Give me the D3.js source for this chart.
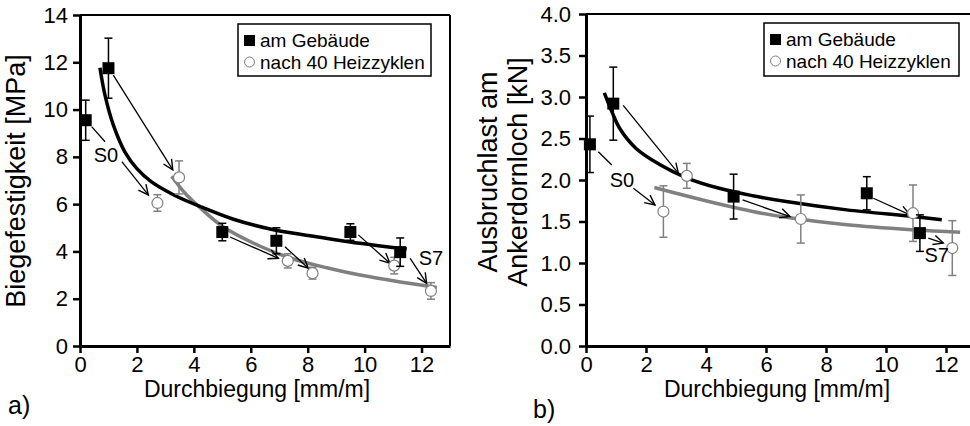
<!DOCTYPE html>
<html><head><meta charset="utf-8">
<script src="https://cdn.jsdelivr.net/npm/d3@7"></script>
<style>body{margin:0;background:#fff}svg{display:block}text{font-family:Arial,"Liberation Sans",sans-serif}</style>
</head><body>
<svg id="c" width="970" height="426"></svg>
<script>
// ---------- data ----------
const xTicks = [0, 2, 4, 6, 8, 10, 12];
const yTicksA = [0, 2, 4, 6, 8, 10, 12, 14];
const yTicksB = [0, 0.5, 1, 1.5, 2, 2.5, 3, 3.5, 4];
const legendLabels = ["am Gebäude", "nach 40 Heizzyklen"];

// panel a) Biegefestigkeit
const aBuildX = [0.2, 1.0, 5.0, 6.9, 9.5, 11.25];
const aBuildY = [9.55, 11.75, 4.82, 4.45, 4.82, 3.97];
const aBuildE = [0.85, 1.27, 0.37, 0.55, 0.35, 0.6];
const aCycX = [2.72, 3.48, 7.3, 8.17, 11.04, 12.33];
const aCycY = [6.05, 7.13, 3.6, 3.08, 3.4, 2.33];
const aCycE = [0.35, 0.7, 0.3, 0.25, 0.35, 0.35];
const aFitBuildX = [0.7, 0.88, 1.17, 1.58, 2.0, 2.5, 3.28, 4.22, 5.39, 6.68, 8.08, 9.49, 11.48];
const aFitBuildY = [11.77, 10.6, 9.35, 8.2, 7.5, 6.95, 6.4, 5.9, 5.36, 4.95, 4.66, 4.40, 4.1];
const aFitCycX = [3.22, 3.7, 4.22, 5.04, 6.33, 7.5, 8.67, 9.84, 11.25, 12.54];
const aFitCycY = [7.18, 6.45, 5.85, 5.03, 4.22, 3.68, 3.31, 3.0, 2.71, 2.48];
// arrows: x1,y1,x2,y2,head
const aArrows = [
  [0.41, 9.28, 0.88, 8.64, 0],
  [1.47, 7.80, 2.40, 6.39, 1],
  [1.17, 11.46, 3.26, 7.45, 1],
  [5.27, 4.61, 6.97, 3.71, 1],
  [7.2, 4.2, 8.02, 3.29, 1],
  [9.78, 4.7, 10.89, 3.5, 1],
  [11.6, 3.71, 12.18, 2.65, 1]
];
const aLabels = [["S0", 0.91, 8.08], ["S7", 12.33, 3.72]];

// panel b) Ausbruchlast
const bBuildX = [0.13, 0.91, 4.92, 9.36, 11.13];
const bBuildY = [2.43, 2.92, 1.80, 1.84, 1.36];
const bBuildE = [0.34, 0.44, 0.27, 0.2, 0.22];
const bCycX = [2.58, 3.36, 7.16, 10.9, 12.21];
const bCycY = [1.62, 2.05, 1.53, 1.60, 1.18];
const bCycE = [0.31, 0.15, 0.29, 0.34, 0.33];
const bFitBuildX = [0.61, 0.89, 1.11, 1.67, 2.44, 3.33, 4.44, 5.56, 6.67, 8.69, 10.9, 11.86];
const bFitBuildY = [3.05, 2.8, 2.63, 2.38, 2.19, 2.03, 1.9, 1.81, 1.74, 1.64, 1.56, 1.52];
const bFitCycX = [2.28, 3.33, 4.44, 5.56, 6.67, 8.69, 10.9, 12.47];
const bFitCycY = [1.91, 1.81, 1.71, 1.62, 1.55, 1.46, 1.40, 1.37];
const bArrows = [
  [0.41, 2.34, 0.86, 2.18, 0],
  [1.58, 1.90, 2.3, 1.70, 1],
  [1.24, 2.90, 3.08, 2.08, 1],
  [5.22, 1.76, 6.8, 1.56, 1],
  [9.58, 1.78, 10.8, 1.58, 1],
  [11.41, 1.30, 11.91, 1.24, 1]
];
const bLabels = [["S0", 1.2, 2.0], ["S7", 11.69, 1.10]];

// ---------- drawing ----------
const svg = d3.select("#c");
const GRAY = "#808080";

function panel(cfg) {
  const x = d3.scaleLinear().domain([0, 13]).range(cfg.xr);
  const y = d3.scaleLinear().domain(cfg.yd).range([346, cfg.ytop]);
  const g = svg.append("g");
  g.append("line").attr("x1", x(0)).attr("x2", x(13)).attr("y1", y(cfg.yd[1])).attr("y2", y(cfg.yd[1]))
    .attr("stroke", "#000").attr("stroke-width", 2);
  g.append("line").attr("x1", x(13)).attr("x2", x(13)).attr("y1", y(cfg.yd[1])).attr("y2", y(0))
    .attr("stroke", "#000").attr("stroke-width", 2);
  const ax = g.append("g").attr("transform", `translate(0,${y(0)})`)
    .call(d3.axisBottom(x).tickValues(xTicks).tickSize(7).tickSizeOuter(0).tickFormat(d3.format("d")));
  const ay = g.append("g").attr("transform", `translate(${x(0)},0)`)
    .call(d3.axisLeft(y).tickValues(cfg.yt).tickSize(7).tickSizeOuter(0).tickFormat(cfg.fmt));
  [ax, ay].forEach(a => {
    a.select(".domain").attr("stroke-width", 3).attr("stroke", "#000");
    a.selectAll(".tick line").attr("stroke-width", 2.5).attr("stroke", "#000");
    a.selectAll(".tick text").attr("font-size", 22).attr("fill", "#000").attr("font-family", "Arial, 'Liberation Sans', sans-serif");
  });
  ax.selectAll(".tick text").attr("dy", null).attr("y", 26);
  ay.selectAll(".tick text").attr("dx", cfg.ydx);
  const line = d3.line().curve(d3.curveCatmullRom.alpha(0.5)).x(d => x(d[0])).y(d => y(d[1]));
  g.append("path").datum(d3.zip(cfg.fcx, cfg.fcy)).attr("d", line).attr("fill", "none")
    .attr("stroke", GRAY).attr("stroke-width", 3.5);
  g.append("path").datum(d3.zip(cfg.fbx, cfg.fby)).attr("d", line).attr("fill", "none")
    .attr("stroke", "#000").attr("stroke-width", 3.5);
  cfg.arrows.forEach(a => {
    const [x1, y1, x2, y2, h] = [x(a[0]), y(a[1]), x(a[2]), y(a[3]), a[4]];
    g.append("line").attr("x1", x1).attr("y1", y1).attr("x2", x2).attr("y2", y2)
      .attr("stroke", "#000").attr("stroke-width", 1.3);
    if (h) {
      const ang = Math.atan2(y2 - y1, x2 - x1), L = 11, w = 0.45;
      const p = [[x2 - L * Math.cos(ang - w), y2 - L * Math.sin(ang - w)], [x2, y2],
                 [x2 - L * Math.cos(ang + w), y2 - L * Math.sin(ang + w)]];
      g.append("path").attr("d", d3.line()(p)).attr("fill", "none").attr("stroke", "#000").attr("stroke-width", 1.4);
    }
  });
  function errbars(xs, ys, es, col) {
    xs.forEach((xv, i) => {
      const cx = x(xv), t = y(ys[i] + es[i]), b = y(ys[i] - es[i]);
      g.append("line").attr("x1", cx).attr("x2", cx).attr("y1", t).attr("y2", b).attr("stroke", col).attr("stroke-width", 1.5);
      [t, b].forEach(yy => g.append("line").attr("x1", cx - 4).attr("x2", cx + 4).attr("y1", yy).attr("y2", yy)
        .attr("stroke", col).attr("stroke-width", 1.5));
    });
  }
  errbars(cfg.cx, cfg.cy, cfg.ce, GRAY);
  g.selectAll(null).data(d3.zip(cfg.cx, cfg.cy)).enter().append("circle")
    .attr("cx", d => x(d[0])).attr("cy", d => y(d[1])).attr("r", 5.5)
    .attr("fill", "#fff").attr("stroke", GRAY).attr("stroke-width", 1.2);
  errbars(cfg.bx, cfg.by, cfg.be, "#000");
  g.selectAll(null).data(d3.zip(cfg.bx, cfg.by)).enter().append("rect")
    .attr("x", d => x(d[0]) - 6).attr("y", d => y(d[1]) - 6).attr("width", 12).attr("height", 12).attr("fill", "#000");
  cfg.labels.forEach(l => g.append("text").attr("x", x(l[1])).attr("y", y(l[2])).attr("dy", "0.35em")
    .attr("text-anchor", "middle").attr("font-size", 20).text(l[0]));
  const [lx, ly, lw, lh] = cfg.leg;
  g.append("rect").attr("x", lx).attr("y", ly).attr("width", lw).attr("height", lh)
    .attr("fill", "#fff").attr("stroke", "#000").attr("stroke-width", 1.5);
  g.append("rect").attr("x", lx + 6).attr("y", ly + 11).attr("width", 11).attr("height", 11).attr("fill", "#000");
  g.append("circle").attr("cx", lx + 11.5).attr("cy", ly + 38).attr("r", 5).attr("fill", "#fff").attr("stroke", GRAY).attr("stroke-width", 1);
  legendLabels.forEach((t, i) => g.append("text").attr("x", lx + 22).attr("y", ly + 16 + i * 22).attr("dy", "0.35em")
    .attr("font-size", 19).text(t));
  g.append("text").attr("x", cfg.xtx).attr("y", cfg.xty).attr("text-anchor", "middle").attr("font-size", 23)
    .text("Durchbiegung [mm/m]");
  g.append("text").attr("x", cfg.px).attr("y", cfg.py).attr("font-size", 25).text(cfg.pl);
}

panel({xr: [80, 450], yd: [0, 14], ytop: 15, yt: yTicksA, fmt: d3.format("d"), ydx: "-2px",
  bx: aBuildX, by: aBuildY, be: aBuildE, cx: aCycX, cy: aCycY, ce: aCycE,
  fbx: aFitBuildX, fby: aFitBuildY, fcx: aFitCycX, fcy: aFitCycY,
  arrows: aArrows, labels: aLabels, leg: [238, 24, 193, 52],
  xtx: 257, xty: 397, px: 8, py: 414, pl: "a)"});
svg.append("text").attr("transform", "translate(25,181) rotate(-90)").attr("text-anchor", "middle")
  .attr("font-size", 27).text("Biegefestigkeit [MPa]");

panel({xr: [586, 976], yd: [0, 4], ytop: 14, yt: yTicksB, fmt: d3.format(".1f"), ydx: "-5px",
  bx: bBuildX, by: bBuildY, be: bBuildE, cx: bCycX, cy: bCycY, ce: bCycE,
  fbx: bFitBuildX, fby: bFitBuildY, fcx: bFitCycX, fcy: bFitCycY,
  arrows: bArrows, labels: bLabels, leg: [764, 23, 195, 53],
  xtx: 777, xty: 397, px: 533, py: 418, pl: "b)"});
svg.append("text").attr("transform", "translate(497,172) rotate(-90)").attr("text-anchor", "middle")
  .attr("font-size", 27).text("Ausbruchlast am");
svg.append("text").attr("transform", "translate(527,172) rotate(-90)").attr("text-anchor", "middle")
  .attr("font-size", 27).text("Ankerdornloch [kN]");
</script>
</body></html>
